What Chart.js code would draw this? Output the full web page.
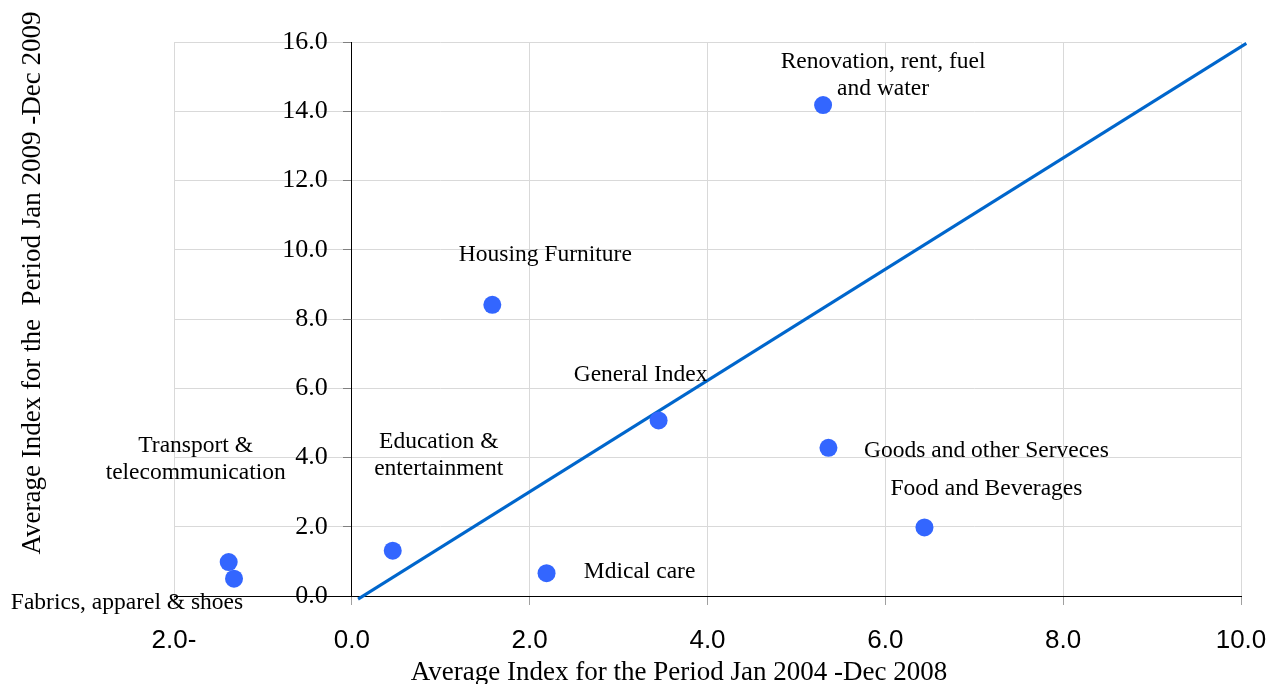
<html><head><title>Average Index scatter</title>
<script src="https://cdn.jsdelivr.net/npm/chart.js"></script>
<style>
  body {
    margin: 0;
    background: white;
  }
  #wrap {
    width: 1268px;
    height: 684px;
    position: relative;
  }
</style>
</head>
<body>
<div id="wrap"><canvas id="scatterChart"></canvas></div>

<script>
// categories, in the order of the points
const categories = [
  'Transport &\ntelecommunication',
  'Fabrics, apparel & shoes',
  'Education &\nentertainment',
  'Mdical care',
  'General Index',
  'Housing Furniture',
  'Renovation, rent, fuel\nand water',
  'Goods and other Serveces',
  'Food and Beverages'
];
// Jan 2004 - Dec 2008 average
const xValues = [-1.385, -1.325, 0.46, 2.19, 3.45, 1.58, 5.30, 5.36, 6.44];
// Jan 2009 - Dec 2009 average
const yValues = [0.98, 0.50, 1.31, 0.66, 5.07, 8.41, 14.18, 4.28, 1.98];

// the straight reference line
const lineX = [0.07, 10.06];
const lineY = [-0.09, 15.96];

const xTickLabels = ['2.0-', '0.0', '2.0', '4.0', '6.0', '8.0', '10.0'];
const yTickLabels = ['0.0', '2.0', '4.0', '6.0', '8.0', '10.0', '12.0', '14.0', '16.0'];

const xTitle = 'Average Index for the Period Jan 2004 -Dec 2008';
const yTitle = 'Average Index for the  Period Jan 2009 -Dec 2009';

// where each name sits, relative to its dot (px): dx, dy of the first line
const labelOffsets = [
  [-33, -116], [-107, 24], [46, -109], [93, -1], [-18, -46],
  [53, -50], [60, -43], [158, 3], [62, -39]
];

const labelFont = '23.5px "Liberation Serif", "Times New Roman", serif';
const titleFont = '27px "Liberation Serif", "Times New Roman", serif';
const yTickFont = '26px "Liberation Serif", "Times New Roman", serif';

// names next to the dots, y tick labels and both axis titles
const textPlugin = {
  id: 'textPlugin',
  afterDraw(chart) {
    const ctx = chart.ctx;
    const xs = chart.scales.x;
    const ys = chart.scales.y;
    ctx.save();
    ctx.fillStyle = 'black';
    ctx.font = labelFont;
    ctx.textAlign = 'center';
    ctx.textBaseline = 'middle';
    categories.forEach((name, i) => {
      const px = xs.getPixelForValue(xValues[i]) + labelOffsets[i][0];
      const py = ys.getPixelForValue(yValues[i]) + labelOffsets[i][1];
      name.split('\n').forEach((line, k) => {
        ctx.fillText(line, px, py + k * 27);
      });
    });

    // y labels sit left of the axis that crosses at x = 0
    ctx.font = yTickFont;
    ctx.textAlign = 'right';
    const axisX = xs.getPixelForValue(0);
    ys.ticks.forEach((t, i) => {
      ctx.fillText(yTickLabels[i], axisX - 24, ys.getPixelForValue(t.value));
    });

    ctx.textAlign = 'center';
    ctx.font = titleFont;
    ctx.fillText(xTitle, 679, 673);

    ctx.translate(33, 283);
    ctx.rotate(-Math.PI / 2);
    ctx.fillText(yTitle, 0, 0);
    ctx.restore();
  }
};

const noEdgePadding = (scale) => {
  scale.paddingLeft = 0;
  scale.paddingRight = 0;
  scale.paddingTop = 0;
  scale.paddingBottom = 0;
};

const ctx = document.getElementById('scatterChart').getContext('2d');

new Chart(ctx, {
  type: 'scatter',
  data: {
    datasets: [{
      label: 'Groups',
      data: xValues.map((x, i) => ({ x: x, y: yValues[i] })),
      backgroundColor: '#3366ff',
      borderWidth: 0,
      pointRadius: 9,
      pointHoverRadius: 9,
      order: 1
    }, {
      label: 'Line',
      data: lineX.map((x, i) => ({ x: x, y: lineY[i] })),
      showLine: true,
      borderColor: '#0066cc',
      borderWidth: 3,
      pointRadius: 0,
      clip: false,
      order: 2
    }]
  },
  options: {
    responsive: true,
    maintainAspectRatio: false,
    animation: false,
    layout: {
      padding: { left: 174, right: 27, top: 42, bottom: 88 }
    },
    plugins: {
      legend: { display: false },
      tooltip: { enabled: false }
    },
    scales: {
      x: {
        type: 'linear',
        position: { y: 0 },
        min: -2,
        max: 10,
        afterFit: noEdgePadding,
        grid: {
          color: '#d9d9d9',
          tickColor: '#a0a0a0',
          tickLength: 8
        },
        border: { color: 'black', width: 1 },
        ticks: {
          stepSize: 2,
          padding: 21,
          color: 'black',
          font: { family: '"Liberation Sans", Arial, sans-serif', size: 26 },
          callback: (value, index) => xTickLabels[index]
        }
      },
      y: {
        type: 'linear',
        position: { x: 0 },
        min: 0,
        max: 16,
        afterFit: noEdgePadding,
        grid: {
          color: '#d9d9d9',
          tickColor: '#808080',
          tickLength: 8
        },
        border: { color: 'black', width: 1 },
        ticks: {
          stepSize: 2,
          display: false
        }
      }
    }
  },
  plugins: [textPlugin]
});
</script>
</body></html>
